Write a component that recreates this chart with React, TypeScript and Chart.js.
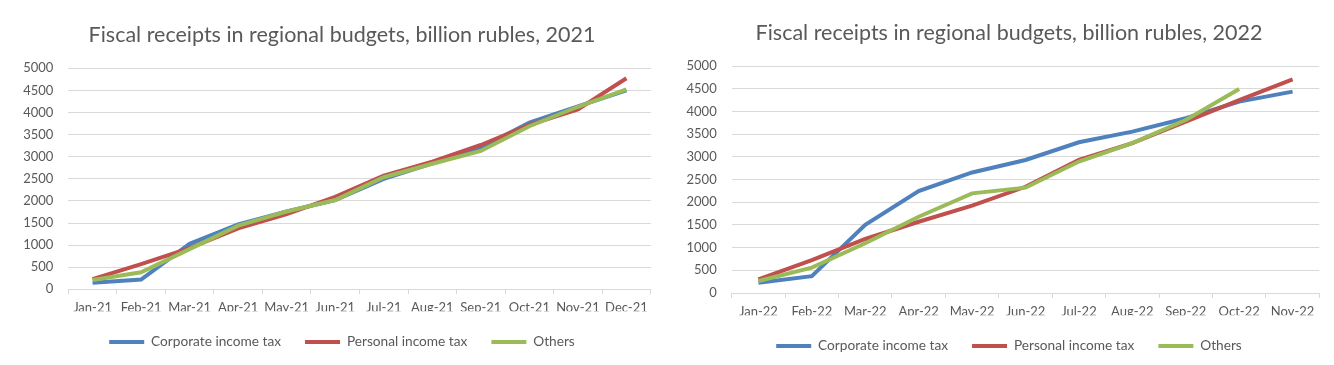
import React, { useEffect, useRef } from "react";
import { Chart, registerables } from "chart.js";

Chart.register(...registerables);

const months2021 = ["Jan-21", "Feb-21", "Mar-21", "Apr-21", "May-21", "Jun-21", "Jul-21", "Aug-21", "Sep-21", "Oct-21", "Nov-21", "Dec-21"];
const corporate2021 = [150, 220, 1030, 1470, 1760, 2020, 2500, 2850, 3200, 3770, 4140, 4500];
const personal2021 = [230, 570, 930, 1380, 1700, 2090, 2570, 2890, 3265, 3720, 4070, 4775];
const others2021 = [210, 385, 910, 1440, 1760, 2020, 2535, 2840, 3130, 3690, 4130, 4525];

const months2022 = ["Jan-22", "Feb-22", "Mar-22", "Apr-22", "May-22", "Jun-22", "Jul-22", "Aug-22", "Sep-22", "Oct-22", "Nov-22"];
const corporate2022 = [225, 370, 1500, 2245, 2655, 2930, 3320, 3555, 3850, 4215, 4435];
const personal2022 = [300, 725, 1190, 1570, 1925, 2340, 2930, 3300, 3775, 4250, 4705];
const others2022 = [265, 560, 1095, 1680, 2195, 2320, 2895, 3300, 3810, 4495, null];

const seriesNames = ["Corporate income tax", "Personal income tax", "Others"];
const seriesColors = ["#4f81bd", "#c0504d", "#9bbb59"];

const yTicks = { min: 0, max: 5000, step: 500 };

const FONT = "Lato, 'Open Sans', sans-serif";
const TEXT = "#595959";
const GRID = "#d9d9d9";

type Layout = {
  width: number;
  titleTop: number;
  titleBottom: number;
  yWidth: number;
  rightWidth: number;
  xHeight: number;
  bottomPad: number;
};

function FiscalChart(props: {
  title: string;
  labels: string[];
  series: (number | null)[][];
  layout: Layout;
}) {
  const ref = useRef<HTMLCanvasElement | null>(null);
  useEffect(() => {
    if (!ref.current) return;
    const L = props.layout;
    const chart = new Chart(ref.current, {
      type: "line",
      data: {
        labels: props.labels,
        datasets: props.series.map((s, i) => ({
          label: seriesNames[i],
          data: s,
          borderColor: seriesColors[i],
          backgroundColor: seriesColors[i],
          borderWidth: 4,
          pointRadius: 0,
          tension: 0,
          order: 3 - i,
          spanGaps: false,
        })),
      },
      options: {
        responsive: false,
        animation: false,
        layout: { padding: { left: 0, right: 0, top: 0, bottom: L.bottomPad } },
        plugins: {
          tooltip: { enabled: false },
          title: {
            display: true,
            text: props.title,
            color: TEXT,
            font: { family: FONT, size: 21.5, weight: "normal", lineHeight: 1.2 },
            padding: { top: L.titleTop, bottom: L.titleBottom },
          },
          legend: {
            display: true,
            position: "bottom",
            labels: {
              color: TEXT,
              font: { family: FONT, size: 13.7 },
              boxWidth: 35,
              boxHeight: 4,
              padding: 24,
              sort: (a: any, b: any) => a.datasetIndex - b.datasetIndex,
              generateLabels: (c: any) => {
                const items = Chart.defaults.plugins.legend.labels.generateLabels(c);
                return items.map((it: any) => ({
                  ...it,
                  fillStyle: it.strokeStyle,
                  lineWidth: 0,
                }));
              },
            },
          },
        },
        scales: {
          x: {
            type: "category",
            offset: true,
            grid: {
              offset: true,
              drawOnChartArea: false,
              drawTicks: true,
              tickLength: 5,
              color: GRID,
            },
            border: { display: true, color: GRID },
            ticks: {
              color: TEXT,
              font: { family: FONT, size: 13 },
              padding: 6,
              maxRotation: 0,
              autoSkip: false,
            },
            afterFit: (s: any) => {
              s.height = L.xHeight;
            },
          },
          y: {
            type: "linear",
            position: "left",
            min: yTicks.min,
            max: yTicks.max,
            grid: { color: GRID, drawTicks: false, lineWidth: 1 },
            border: { display: false },
            ticks: {
              stepSize: yTicks.step,
              color: TEXT,
              font: { family: FONT, size: 13 },
              padding: 15,
              callback: (v: any) => String(v),
            },
            afterFit: (s: any) => {
              s.width = L.yWidth;
            },
          },
          spacer: {
            type: "linear",
            position: "right",
            display: true,
            grid: { display: false, drawTicks: false },
            border: { display: false },
            ticks: { display: false },
            afterFit: (s: any) => {
              s.width = L.rightWidth;
            },
          },
        },
      } as any,
    });
    return () => chart.destroy();
  }, []);
  return (
    <canvas
      ref={ref}
      width={props.layout.width}
      height={365}
      style={{ display: "block", width: props.layout.width, height: 365 }}
    />
  );
}

const leftLayout: Layout = {
  width: 684,
  titleTop: 22.1,
  titleBottom: 20.4,
  yWidth: 68.3,
  rightWidth: 33.3,
  xHeight: 21.85,
  bottomPad: 6.15,
};

const rightLayout: Layout = {
  width: 650,
  titleTop: 20.1,
  titleBottom: 20.1,
  yWidth: 47.7,
  rightWidth: 14.7,
  xHeight: 22.15,
  bottomPad: 2.15,
};

export default function App() {
  return (
    <div style={{ position: "absolute", left: 0, top: 0, width: 1334, height: 365, background: "#ffffff" }}>
      <div style={{ position: "absolute", left: 0, top: 0 }}>
        <FiscalChart
          title="Fiscal receipts in regional budgets, billion rubles, 2021"
          labels={months2021}
          series={[corporate2021, personal2021, others2021]}
          layout={leftLayout}
        />
      </div>
      <div style={{ position: "absolute", left: 684, top: 0 }}>
        <FiscalChart
          title="Fiscal receipts in regional budgets, billion rubles, 2022"
          labels={months2022}
          series={[corporate2022, personal2022, others2022]}
          layout={rightLayout}
        />
      </div>
    </div>
  );
}
